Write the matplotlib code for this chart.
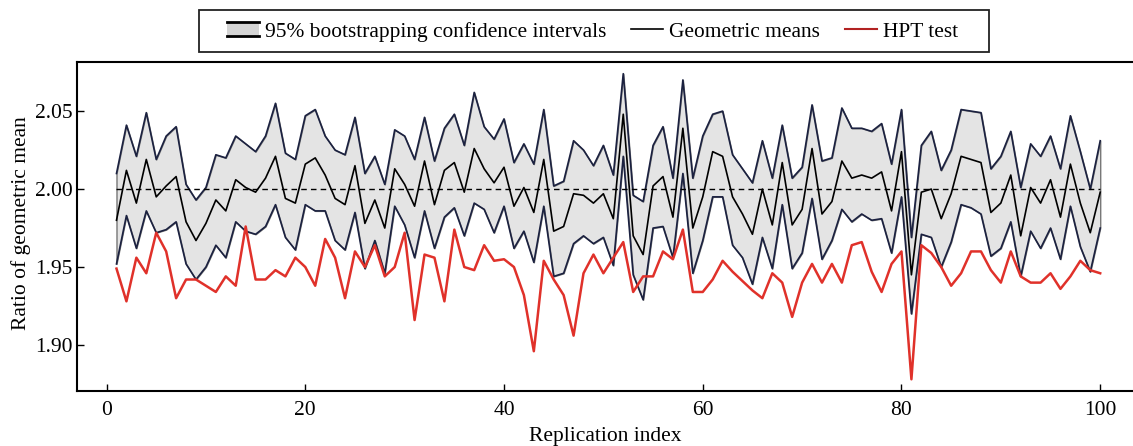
import numpy as np
import matplotlib
matplotlib.use('Agg')
import matplotlib.pyplot as plt
from matplotlib.patches import Rectangle
from matplotlib.lines import Line2D
from matplotlib.legend_handler import HandlerBase

plt.rcParams['font.family'] = ['Liberation Serif', 'DejaVu Serif']
plt.rcParams['mathtext.fontset'] = 'stix'

replication = np.arange(1, 101)

ci_upper = [
    2.010, 2.041, 2.021, 2.049, 2.019, 2.034, 2.040, 2.003, 1.993, 2.001,
    2.022, 2.020, 2.034, 2.029, 2.024, 2.034, 2.055, 2.023, 2.019, 2.047,
    2.051, 2.034, 2.025, 2.022, 2.046, 2.010, 2.021, 2.003, 2.038, 2.034,
    2.019, 2.046, 2.018, 2.039, 2.048, 2.028, 2.062, 2.040, 2.032, 2.045,
    2.017, 2.029, 2.016, 2.051, 2.002, 2.005, 2.031, 2.025, 2.015, 2.028,
    2.009, 2.074, 1.996, 1.992, 2.028, 2.040, 2.007, 2.070, 2.007, 2.034,
    2.048, 2.050, 2.022, 2.013, 2.004, 2.031, 2.007, 2.041, 2.007, 2.014,
    2.054, 2.018, 2.020, 2.052, 2.039, 2.039, 2.037, 2.042, 2.016, 2.051,
    1.969, 2.028, 2.037, 2.012, 2.025, 2.051, 2.050, 2.049, 2.013, 2.021,
    2.037, 2.001, 2.029, 2.021, 2.034, 2.013, 2.047, 2.024, 2.000, 2.031,
]

geo_mean = [
    1.980, 2.012, 1.991, 2.019, 1.995, 2.002, 2.008, 1.979, 1.967, 1.978,
    1.993, 1.986, 2.006, 2.001, 1.998, 2.007, 2.021, 1.994, 1.991, 2.016,
    2.020, 2.009, 1.994, 1.990, 2.015, 1.978, 1.993, 1.975, 2.013, 2.003,
    1.989, 2.018, 1.990, 2.012, 2.017, 1.998, 2.026, 2.013, 2.004, 2.014,
    1.989, 2.001, 1.985, 2.019, 1.973, 1.976, 1.997, 1.996, 1.991, 1.997,
    1.981, 2.048, 1.970, 1.958, 2.002, 2.008, 1.982, 2.039, 1.975, 1.995,
    2.024, 2.021, 1.995, 1.984, 1.971, 2.000, 1.977, 2.017, 1.977, 1.987,
    2.026, 1.984, 1.992, 2.018, 2.007, 2.009, 2.007, 2.011, 1.986, 2.024,
    1.945, 1.998, 2.000, 1.981, 1.997, 2.021, 2.019, 2.017, 1.985, 1.991,
    2.009, 1.970, 2.001, 1.991, 2.006, 1.982, 2.016, 1.991, 1.972, 1.998,
]

ci_lower = [
    1.952, 1.983, 1.962, 1.986, 1.972, 1.974, 1.979, 1.952, 1.942, 1.950,
    1.964, 1.956, 1.979, 1.973, 1.971, 1.976, 1.990, 1.969, 1.961, 1.990,
    1.986, 1.986, 1.967, 1.961, 1.985, 1.949, 1.967, 1.946, 1.989, 1.977,
    1.956, 1.986, 1.962, 1.982, 1.988, 1.970, 1.991, 1.987, 1.972, 1.989,
    1.962, 1.973, 1.953, 1.989, 1.944, 1.946, 1.965, 1.970, 1.965, 1.969,
    1.951, 2.021, 1.945, 1.929, 1.975, 1.976, 1.956, 2.010, 1.946, 1.967,
    1.995, 1.995, 1.964, 1.956, 1.939, 1.969, 1.949, 1.990, 1.949, 1.959,
    1.994, 1.955, 1.967, 1.987, 1.979, 1.984, 1.980, 1.981, 1.959, 1.995,
    1.920, 1.971, 1.969, 1.950, 1.966, 1.990, 1.988, 1.984, 1.957, 1.962,
    1.979, 1.944, 1.973, 1.962, 1.975, 1.955, 1.989, 1.963, 1.947, 1.975,
]

hpt_test = [
    1.949, 1.928, 1.956, 1.946, 1.972, 1.960, 1.930, 1.942, 1.942, 1.938,
    1.934, 1.944, 1.938, 1.976, 1.942, 1.942, 1.948, 1.944, 1.956, 1.950,
    1.938, 1.968, 1.956, 1.930, 1.960, 1.950, 1.964, 1.944, 1.950, 1.972,
    1.916, 1.958, 1.956, 1.928, 1.974, 1.950, 1.948, 1.964, 1.954, 1.955,
    1.950, 1.932, 1.896, 1.954, 1.942, 1.932, 1.906, 1.946, 1.958, 1.946,
    1.956, 1.966, 1.934, 1.944, 1.944, 1.960, 1.955, 1.974, 1.934, 1.934,
    1.942, 1.954, 1.947, 1.941, 1.935, 1.930, 1.946, 1.940, 1.918, 1.940,
    1.952, 1.940, 1.952, 1.940, 1.964, 1.966, 1.947, 1.934, 1.952, 1.960,
    1.878, 1.964, 1.959, 1.950, 1.938, 1.946, 1.960, 1.960, 1.948, 1.940,
    1.960, 1.944, 1.940, 1.940, 1.946, 1.936, 1.944, 1.954, 1.948, 1.946,
]

y_ticks = [1.90, 1.95, 2.00, 2.05]
x_ticks = [0, 20, 40, 60, 80, 100]

BAND_EDGE = '#1b2140'
BAND_FILL = '#e4e4e4'
HPT_RED = '#e0312a'


class BandHandler(HandlerBase):
    """gray box with dark lines on top and bottom, like the band"""
    def create_artists(self, legend, orig_handle, xdescent, ydescent,
                       width, height, fontsize, trans):
        x0, y0 = -xdescent, -ydescent
        rect = Rectangle((x0, y0), width, height, facecolor='#d4d4d4',
                         edgecolor='none', transform=trans)
        top = Line2D([x0, x0 + width], [y0 + height] * 2, color='black',
                     lw=2, transform=trans)
        bot = Line2D([x0, x0 + width], [y0] * 2, color='black',
                     lw=2, transform=trans)
        return [rect, top, bot]


fig = plt.figure(figsize=(11.33, 4.46), dpi=100)
ax = fig.add_axes([0.068, 0.123, 0.932, 0.738])

band = ax.fill_between(replication, ci_lower, ci_upper, facecolor=BAND_FILL,
                       edgecolor='#777777', linewidth=1.0)
ax.plot(replication, ci_upper, color=BAND_EDGE, lw=1.2)
ax.plot(replication, ci_lower, color=BAND_EDGE, lw=1.2)
ax.hlines(2.0, 1, 100, colors='black', linestyles=(0, (4, 3)), lw=1.0)
mean_line, = ax.plot(replication, geo_mean, color='black', lw=1.2)
hpt_line, = ax.plot(replication, hpt_test, color=HPT_RED, lw=1.8)

ax.set_xlim(-2.97, 103.3)
ax.set_ylim(1.8704, 2.0815)
ax.set_xticks(x_ticks)
ax.set_yticks(y_ticks)
ax.yaxis.set_major_formatter(plt.FuncFormatter(lambda v, p: f'{v:.2f}'))
ax.tick_params(direction='in', length=5, width=1, labelsize=15.5, pad=7)
ax.tick_params(axis='y', pad=3)
ax.spines['right'].set_visible(False)
for s in ['left', 'bottom', 'top']:
    ax.spines[s].set_linewidth(1.5)

ax.set_xlabel('Replication index', fontsize=15.5)
ax.set_ylabel('Ratio of geometric mean', fontsize=15.5)
ax.xaxis.set_label_coords(0.5, -0.11)
ax.yaxis.set_label_coords(-0.044, 0.51)

legend_band = Rectangle((0, 0), 1, 1)
fig.legend([legend_band, mean_line, Line2D([], [], color='#b22222', lw=1.5)],
           ['95% bootstrapping confidence intervals', 'Geometric means', 'HPT test'],
           handler_map={Rectangle: BandHandler()},
           loc='center', bbox_to_anchor=(0.523, 0.929), ncol=3,
           fontsize=15.4, frameon=False, handlelength=1.5, handleheight=0.6,
           handletextpad=0.3, columnspacing=1.15)
# legend frame drawn by hand: the box is wider than its content
fig.patches.append(Rectangle((199 / 1133, 1 - 52 / 446), 790 / 1133, 42 / 446,
                             transform=fig.transFigure, fill=False,
                             edgecolor='#222222', linewidth=1.3))

fig.savefig('out.png', dpi=100)
